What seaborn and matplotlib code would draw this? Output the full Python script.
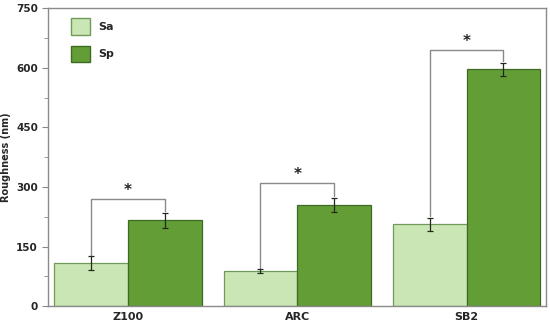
import numpy as np
import pandas as pd
import seaborn as sns
import matplotlib.pyplot as plt
from matplotlib.patches import Patch

# values
groups = ['Z100', 'ARC', 'SB2']
series = ['Sa', 'Sp']
sa_mean = [108, 88, 206]
sp_mean = [216, 254, 596]
sa_err = [18, 5, 17]
sp_err = [19, 18, 17]
bracket_top = [269, 310, 644]
y_ticks = [0, 150, 300, 450, 600, 750]

colors = {'Sa': '#cbe6b5', 'Sp': '#629d36'}
edges = {'Sa': '#6f9a58', 'Sp': '#3e6a22'}

df = pd.DataFrame({
    'group': groups * 2,
    'series': ['Sa'] * 3 + ['Sp'] * 3,
    'value': sa_mean + sp_mean,
    'err': sa_err + sp_err,
})

sns.set_style('white')
plt.rcParams['font.family'] = ['DejaVu Sans']

fig, ax = plt.subplots(figsize=(5.5, 3.24), dpi=100)
sns.barplot(data=df, x='group', y='value', hue='series', order=groups,
            hue_order=series, palette=colors, saturation=1, width=0.87, gap=0,
            errorbar=None, ax=ax, legend=False)

# colour edges and collect bar centres per series
centres = {}
for patch, (s, g) in zip(ax.patches, [(s, g) for s in series for g in groups]):
    patch.set_edgecolor(edges[s])
    patch.set_linewidth(0.9)
    centres[(s, g)] = patch.get_x() + patch.get_width() / 2

for s, means, errs in [('Sa', sa_mean, sa_err), ('Sp', sp_mean, sp_err)]:
    xs = [centres[(s, g)] for g in groups]
    ax.errorbar(xs, means, yerr=errs, fmt='none', ecolor='#1f2a18',
                elinewidth=0.9, capsize=2, capthick=0.9, zorder=5)

# significance brackets
for i, g in enumerate(groups):
    x0, x1 = centres[('Sa', g)], centres[('Sp', g)]
    y0 = sa_mean[i] + sa_err[i] + 4
    y1 = sp_mean[i] + sp_err[i] + 4
    top = bracket_top[i]
    ax.plot([x0, x0, x1, x1], [y0, top, top, y1], color='#8a8a8a', lw=1.0)
    ax.text((x0 + x1) / 2, top + 2, '*', ha='center', va='bottom',
            fontsize=11, fontweight='bold', color='#222222')

ax.set_ylim(0, 750)
ax.set_xlim(-0.47, 2.47)
ax.set_yticks(y_ticks)
ax.set_yticks([75, 225, 375, 525, 675], minor=True)
ax.tick_params(axis='y', which='both', direction='out', length=4,
               color='#888888', left=True, labelsize=7.5)
ax.tick_params(axis='y', which='minor', length=3)
ax.tick_params(axis='x', length=0, labelsize=8, pad=4)
for lab in ax.get_yticklabels() + ax.get_xticklabels():
    lab.set_fontweight('bold')
ax.set_xlabel('')
ax.set_ylabel('Roughness (nm)', fontsize=7, fontweight='bold', labelpad=4)
for sp in ax.spines.values():
    sp.set_color('#8a8a8a')
    sp.set_linewidth(1.0)

# legend squares
handles = [Patch(facecolor=colors[s], edgecolor=edges[s], label=s) for s in series]
leg = ax.legend(handles=handles, loc='upper left', bbox_to_anchor=(0.025, 1.0),
                frameon=False, handlelength=1.7, handleheight=1.9,
                labelspacing=1.0, handletextpad=0.8, fontsize=8)
for t in leg.get_texts():
    t.set_fontweight('bold')

fig.subplots_adjust(left=0.088, right=0.993, top=0.975, bottom=0.055)
fig.savefig('out.png', dpi=100)
